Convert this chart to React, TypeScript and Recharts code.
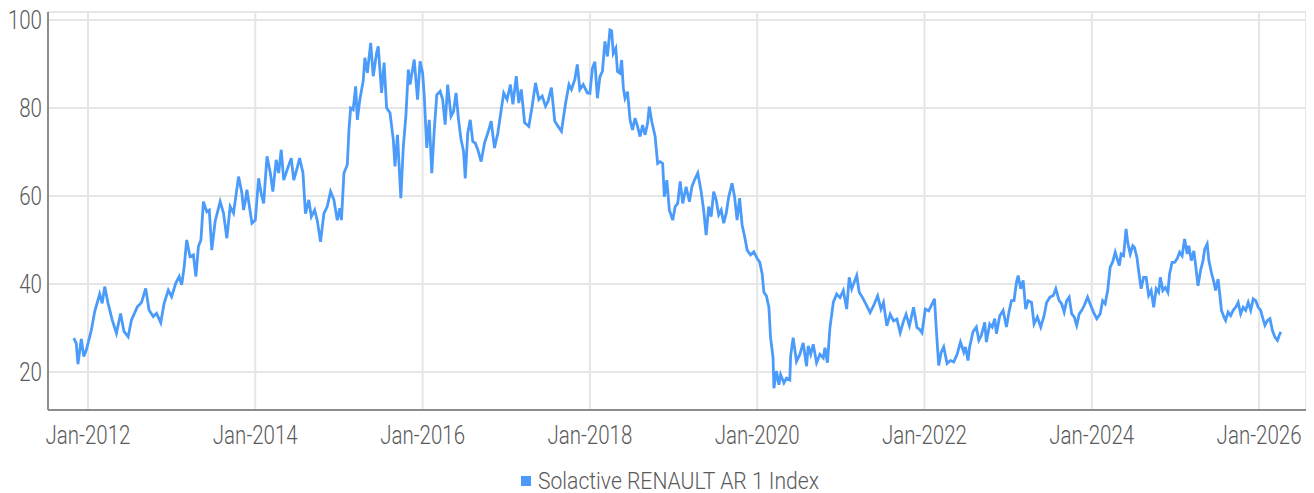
import React from 'react';
import { LineChart, Line, XAxis, YAxis, CartesianGrid, Legend } from 'recharts';

// x positions in decimal years
const years = [
  2011.83, 2011.86, 2011.88, 2011.92, 2011.95, 2011.98, 2012.04, 2012.08, 2012.14, 2012.17,
  2012.2, 2012.24, 2012.29, 2012.34, 2012.39, 2012.43, 2012.48, 2012.52, 2012.59, 2012.64,
  2012.69, 2012.73, 2012.78, 2012.82, 2012.87, 2012.91, 2012.96, 2013.0, 2013.05, 2013.09,
  2013.12, 2013.15, 2013.18, 2013.22, 2013.26, 2013.29, 2013.32, 2013.35, 2013.38, 2013.42,
  2013.45, 2013.48, 2013.52, 2013.58, 2013.62, 2013.66, 2013.7, 2013.74, 2013.8, 2013.84,
  2013.86, 2013.88, 2013.9, 2013.93, 2013.96, 2014.0, 2014.04, 2014.07, 2014.1, 2014.14,
  2014.18, 2014.21, 2014.25, 2014.28, 2014.31, 2014.34, 2014.38, 2014.43, 2014.46, 2014.5,
  2014.53, 2014.57, 2014.6, 2014.64, 2014.67, 2014.71, 2014.74, 2014.78, 2014.82, 2014.86,
  2014.9, 2014.94, 2014.98, 2015.01, 2015.03, 2015.06, 2015.1, 2015.12, 2015.14, 2015.17,
  2015.2, 2015.22, 2015.25, 2015.29, 2015.31, 2015.34, 2015.38, 2015.41, 2015.45, 2015.47,
  2015.51, 2015.54, 2015.57, 2015.61, 2015.65, 2015.67, 2015.7, 2015.74, 2015.77, 2015.8,
  2015.83, 2015.85, 2015.9, 2015.94, 2015.97, 2016.0, 2016.02, 2016.05, 2016.08, 2016.11,
  2016.14, 2016.17, 2016.21, 2016.24, 2016.27, 2016.3, 2016.34, 2016.37, 2016.4, 2016.43,
  2016.46, 2016.49, 2016.51, 2016.54, 2016.57, 2016.6, 2016.63, 2016.66, 2016.7, 2016.74,
  2016.78, 2016.82, 2016.86, 2016.9, 2016.94, 2016.97, 2017.01, 2017.05, 2017.08, 2017.12,
  2017.15, 2017.18, 2017.22, 2017.27, 2017.31, 2017.35, 2017.39, 2017.43, 2017.47, 2017.5,
  2017.54, 2017.58, 2017.62, 2017.66, 2017.71, 2017.75, 2017.78, 2017.82, 2017.85, 2017.88,
  2017.92, 2017.97, 2018.0, 2018.03, 2018.06, 2018.09, 2018.12, 2018.15, 2018.18, 2018.21,
  2018.24, 2018.26, 2018.28, 2018.31, 2018.33, 2018.36, 2018.38, 2018.4, 2018.42, 2018.45,
  2018.48, 2018.51, 2018.54, 2018.57, 2018.6, 2018.63, 2018.66, 2018.69, 2018.71, 2018.74,
  2018.78, 2018.81, 2018.84, 2018.87, 2018.89, 2018.92, 2018.95, 2018.99, 2019.02, 2019.05,
  2019.08, 2019.11, 2019.15, 2019.19, 2019.22, 2019.25, 2019.29, 2019.33, 2019.36, 2019.39,
  2019.42, 2019.45, 2019.48, 2019.51, 2019.54, 2019.57, 2019.6, 2019.63, 2019.66, 2019.7,
  2019.73, 2019.76, 2019.79, 2019.82, 2019.85, 2019.88, 2019.92, 2019.96, 2020.0, 2020.03,
  2020.06, 2020.08, 2020.11, 2020.14, 2020.16, 2020.19, 2020.2, 2020.23, 2020.26, 2020.28,
  2020.32, 2020.35, 2020.39, 2020.4, 2020.43, 2020.47, 2020.51, 2020.55, 2020.59, 2020.61,
  2020.64, 2020.67, 2020.71, 2020.75, 2020.79, 2020.81, 2020.84, 2020.87, 2020.91, 2020.95,
  2020.99, 2021.03, 2021.07, 2021.1, 2021.13, 2021.16, 2021.19, 2021.22, 2021.26, 2021.3,
  2021.35, 2021.39, 2021.44, 2021.48, 2021.51, 2021.55, 2021.59, 2021.63, 2021.67, 2021.71,
  2021.75, 2021.78, 2021.82, 2021.87, 2021.91, 2021.94, 2021.97, 2022.01, 2022.05, 2022.09,
  2022.12, 2022.14, 2022.17, 2022.2, 2022.23, 2022.27, 2022.31, 2022.35, 2022.39, 2022.43,
  2022.47, 2022.49, 2022.52, 2022.54, 2022.58, 2022.62, 2022.65, 2022.68, 2022.72, 2022.74,
  2022.78, 2022.81, 2022.84, 2022.86, 2022.9, 2022.94, 2022.98, 2023.01, 2023.04, 2023.07,
  2023.1, 2023.12, 2023.15, 2023.18, 2023.21, 2023.24, 2023.28, 2023.31, 2023.35, 2023.39,
  2023.43, 2023.46, 2023.5, 2023.54, 2023.57, 2023.61, 2023.64, 2023.67, 2023.7, 2023.73,
  2023.76, 2023.79, 2023.82, 2023.85, 2023.88, 2023.91, 2023.95, 2023.98, 2024.02, 2024.06,
  2024.1, 2024.13, 2024.16, 2024.19, 2024.22, 2024.25, 2024.28, 2024.31, 2024.33, 2024.35,
  2024.38, 2024.41, 2024.43, 2024.46, 2024.49, 2024.51, 2024.54, 2024.56, 2024.59, 2024.62,
  2024.65, 2024.68, 2024.71, 2024.74, 2024.77, 2024.8, 2024.82, 2024.85, 2024.88, 2024.91,
  2024.93, 2024.96, 2024.99, 2025.02, 2025.05, 2025.08, 2025.11, 2025.14, 2025.16, 2025.19,
  2025.22, 2025.24, 2025.27, 2025.3, 2025.33, 2025.35, 2025.38, 2025.4, 2025.43, 2025.46,
  2025.48, 2025.51, 2025.53, 2025.55, 2025.58, 2025.6, 2025.63, 2025.66, 2025.69, 2025.72,
  2025.75, 2025.78, 2025.81, 2025.84, 2025.87, 2025.9, 2025.93, 2025.96, 2025.99, 2026.02,
  2026.04, 2026.07, 2026.1, 2026.13, 2026.16, 2026.19, 2026.22, 2026.24, 2026.26,
];

const indexValues = [
  27.7, 26.5, 21.8, 27.5, 23.5, 25, 29.5, 33.7, 37.7, 35.6,
  39.4, 35.6, 31.8, 28.8, 33.3, 29.2, 28, 31.8, 34.8, 35.8,
  39, 34.1, 32.6, 33.3, 31.2, 35.6, 38.6, 37.1, 40.2, 41.7,
  39.8, 43.9, 50, 46.2, 46.6, 41.7, 48.5, 50, 58.7, 56.4,
  56.8, 47.7, 54.2, 58.7, 56.1, 50.4, 57.6, 56.1, 64.4, 60.6,
  56.8, 58.7, 61.4, 57.6, 53.8, 54.5, 64, 60.6, 58.3, 69,
  65.2, 61, 68.2, 65.2, 70.5, 63.6, 65.9, 68.6, 63.6, 66.3,
  68.6, 65.2, 56, 59.1, 55.3, 56.8, 54.5, 49.6, 56, 57.6,
  61, 59.1, 54.5, 57.2, 54.5, 65.2, 67.1, 75.1, 80, 79.6,
  84.9, 77.3, 81.9, 86.1, 91.4, 88, 94.8, 87.2, 92.5, 94,
  83.4, 90.3, 80, 78.9, 72.8, 66.7, 73.9, 59.5, 71.3, 78.1,
  88.7, 85.3, 91, 81.9, 90.6, 88, 82.7, 70.9, 77.3, 65.2,
  75.1, 83, 83.8, 81.9, 76.2, 85.3, 78.1, 79.2, 83.4, 77.3,
  72.8, 70.1, 64, 74.3, 77.3, 72.4, 72, 70.5, 67.8, 72,
  74.3, 77, 70.9, 74.3, 79.6, 83.4, 81.9, 85.3, 80.8, 87.2,
  81.1, 84.2, 76.6, 75.8, 80.4, 85.7, 81.9, 82.7, 80.4, 81.5,
  84.6, 77, 75.8, 74.7, 81.1, 85.3, 84.2, 86.5, 89.9, 84.2,
  85.3, 83.4, 83.3, 89, 90.5, 82.2, 87.1, 88.3, 95.1, 91.7,
  97.7, 97.5, 92.4, 93.6, 88.3, 87.9, 90.9, 84.5, 82.2, 83.7,
  77.3, 75, 77.7, 75.8, 73.5, 76.1, 73.9, 76.5, 80.3, 76.9,
  73.5, 67.4, 67.8, 67.4, 59.8, 63.6, 56.8, 54.5, 57.6, 58.3,
  63.3, 58.3, 62.1, 58.7, 62.1, 63.6, 65.2, 61, 56.8, 51.1,
  57.6, 55.3, 61, 59.1, 55.7, 56.8, 53.8, 56.1, 59.8, 62.9,
  59.8, 54.5, 59.5, 53.4, 50.8, 47.7, 46.6, 47.3, 45.8, 45,
  42.3, 38.1, 37.3, 34.7, 27.8, 23.2, 16.3, 20.2, 17.1, 19.4,
  17.5, 18.6, 18.2, 23.6, 27.8, 22.4, 24, 26.6, 21.3, 25.9,
  24, 26.3, 22.1, 24, 23.2, 25.5, 22.1, 30.1, 35.8, 37.7,
  36.9, 38.5, 34.3, 41.5, 38.9, 40.4, 41.9, 38.1, 36.9, 35.4,
  33.5, 35, 37.3, 34.3, 35.8, 30.5, 33.1, 31.6, 32, 28.9,
  31.6, 33.1, 30.5, 34.7, 30.1, 29.7, 28.9, 34.3, 33.9, 35.4,
  36.6, 30.1, 21.5, 24.5, 25.7, 21.9, 22.6, 22.3, 24, 26.8,
  24.5, 25.7, 22.6, 25.7, 29.1, 30.2, 27.2, 28.3, 31.3, 26.8,
  30.9, 30.2, 32.1, 28.7, 32.8, 34, 30.2, 33.6, 36.2, 36.2,
  40.4, 41.9, 38.9, 40.8, 34.3, 36.2, 35.8, 30.9, 32.5, 30.2,
  32.8, 35.8, 37, 37.4, 38.9, 36.2, 35.5, 33.6, 36.2, 37,
  33.2, 32.5, 30.6, 33.2, 34, 35.1, 37, 35.5, 33.6, 32.1,
  33.2, 36.2, 35.5, 38.5, 43.8, 45, 47.2, 45.3, 44.2, 46.8,
  46.4, 52.5, 49.4, 46.8, 48.7, 48.3, 46, 43, 38.9, 41.5,
  41.5, 37.4, 38.5, 34.7, 38.9, 38.1, 41.5, 38.5, 39.2, 38.1,
  42.3, 44.9, 44.9, 45.7, 47.2, 46.4, 50.2, 46.8, 48.7, 45.3,
  47.5, 44.5, 39.6, 43, 45.3, 47.9, 49.1, 45.3, 42.6, 40.4,
  38.5, 41.1, 37.7, 34, 32.5, 31.7, 33.6, 32.8, 34, 34.7,
  35.8, 33.2, 34.7, 34, 35.8, 34, 36.6, 36.2, 34.7, 34,
  32.5, 30.6, 31.7, 32.1, 29.4, 27.9, 27.2, 28.3, 29.1,
];

const xTicks = [2012, 2014, 2016, 2018, 2020, 2022, 2024, 2026];
const yTicks = [20, 40, 60, 80, 100];
const seriesName = 'Solactive RENAULT AR 1 Index';

const data = years.map((t, i) => ({ t, v: indexValues[i] }));

const FONT = 'Roboto, "Noto Sans", sans-serif';
const TEXT = '#5a5a5a';
const LINE = '#4b9bfa';
const SQUEEZE = 0.82; // reference font is a condensed face
const LEGEND_SQUEEZE = 0.88;

// tick that draws narrower text, like the condensed face in the picture
const makeTick = (anchor: 'middle' | 'end', fmt: (v: number) => string) => (props: any) => {
  const { x, y, payload } = props;
  return (
    <text
      transform={`translate(${x},${y}) scale(${SQUEEZE},1)`}
      textAnchor={anchor}
      dy={anchor === 'end' ? '0.355em' : '0.71em'}
      fill={TEXT}
      fontSize={25}
      fontWeight={300}
      fontFamily={FONT}
    >
      {fmt(payload.value)}
    </text>
  );
};

const XTick = makeTick('middle', (y) => `Jan-${y}`);
const YTick = makeTick('end', (v) => String(v));

const renderLegend = () => (
  <div
    style={{
      height: 35,
      boxSizing: 'border-box',
      paddingTop: 11,
      paddingLeft: 26,
      display: 'flex',
      justifyContent: 'center',
      alignItems: 'center',
      fontFamily: FONT,
      fontWeight: 300,
      fontSize: 24,
      color: TEXT,
      lineHeight: '24px',
    }}
  >
    <span style={{ width: 10, height: 10, background: LINE, display: 'inline-block', marginRight: 7 }} />
    <span
      style={{
        display: 'inline-block',
        transform: `scaleX(${LEGEND_SQUEEZE})`,
        transformOrigin: 'left center',
        marginRight: -38,
        whiteSpace: 'nowrap',
      }}
    >
      {seriesName}
    </span>
  </div>
);

export default function App() {
  return (
    <div style={{ fontFamily: FONT, marginLeft: -8, marginTop: -8 }}>
      <LineChart width={1306} height={493} data={data} margin={{ top: 12, right: 0, left: 8, bottom: 0 }}>
        <CartesianGrid stroke="#e6e6e6" strokeWidth={2} />
        <XAxis
          dataKey="t"
          type="number"
          domain={[2011.522, 2026.561]}
          ticks={xTicks}
          allowDataOverflow
          height={48}
          tickLine={false}
          tickSize={0}
          tickMargin={16}
          axisLine={{ stroke: '#8c8c8c', strokeWidth: 2 }}
          tick={XTick}
        />
        <YAxis
          type="number"
          domain={[11.36, 101.8]}
          ticks={yTicks}
          allowDataOverflow
          width={40}
          tickLine={false}
          tickSize={0}
          tickMargin={6}
          axisLine={{ stroke: '#8c8c8c', strokeWidth: 2 }}
          tick={YTick}
        />
        <Legend verticalAlign="bottom" content={renderLegend} />
        <Line
          type="linear"
          dataKey="v"
          name={seriesName}
          stroke={LINE}
          strokeWidth={2.8}
          dot={false}
          isAnimationActive={false}
        />
      </LineChart>
    </div>
  );
}
